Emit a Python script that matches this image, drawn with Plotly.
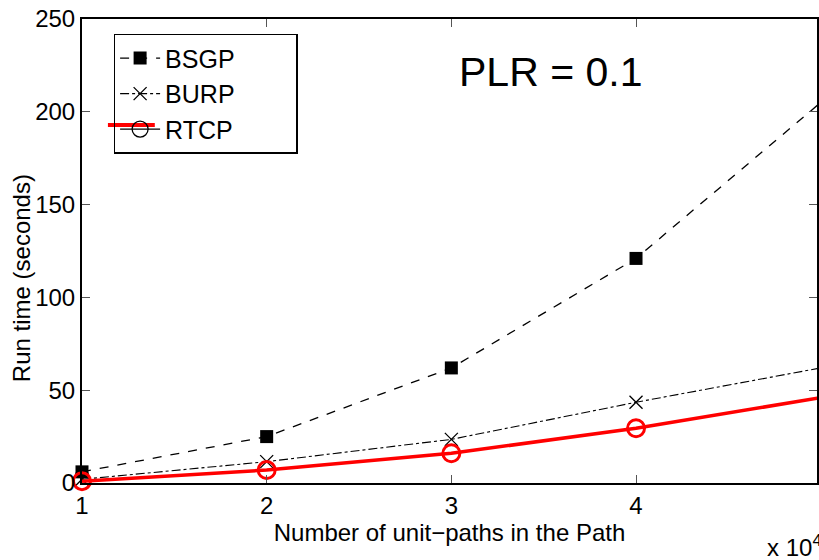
import plotly.graph_objects as go

# Number of unit-paths (x 10^4)
paths = [1, 2, 3, 4, 5]

# Run time in seconds for each algorithm
bsgp = [6, 25, 62, 121, 205]
burp = [2, 11.5, 23.5, 43.5, 62]
rtcp = [1, 7, 16, 29.5, 46]

FONT = "Liberation Sans, Arial"
NBSP = "\u00a0"

fig = go.Figure()

fig.add_trace(go.Scatter(
    x=paths, y=bsgp, name="BSGP" + NBSP * 8, mode="lines+markers",
    line=dict(color="black", width=1.3, dash="dash"),
    marker=dict(symbol="square", size=13, color="black"),
    cliponaxis=False,
))
fig.add_trace(go.Scatter(
    x=paths, y=burp, name="BURP", mode="lines+markers",
    line=dict(color="black", width=1.1, dash="dashdot"),
    marker=dict(symbol="x-thin-open", size=13, line=dict(color="black", width=1.3)),
    cliponaxis=False,
))
fig.add_trace(go.Scatter(
    x=paths, y=rtcp, name="RTCP", mode="lines+markers",
    line=dict(color="black", width=1.3),
    marker=dict(symbol="circle-open", size=17, line=dict(color="black", width=1.3)),
    cliponaxis=False,
))
fig.add_trace(go.Scatter(
    x=paths, y=rtcp, name="RTCP", mode="lines+markers", showlegend=False,
    line=dict(color="#ff0000", width=3.5),
    marker=dict(symbol="circle-open", size=17, line=dict(color="#ff0000", width=3)),
    cliponaxis=False,
))

fig.update_layout(
    width=819, height=560,
    margin=dict(l=82, r=0, t=19, b=77),
    paper_bgcolor="white", plot_bgcolor="white",
    font=dict(family=FONT, color="black", size=24),
    showlegend=True,
    legend=dict(
        x=0.043, y=0.968, xanchor="left", yanchor="top",
        bgcolor="rgba(255,255,255,0)", bordercolor="black", borderwidth=1.5,
        font=dict(family=FONT, size=25), tracegroupgap=0,
        itemwidth=40,
    ),
    xaxis=dict(
        range=[1, 4.98], tickvals=[1, 2, 3, 4, 5],
        ticks="inside", ticklen=8, tickcolor="#555",
        showline=True, linecolor="black", linewidth=2, mirror="ticks",
        showgrid=False, zeroline=False,
        tickfont=dict(size=24, family=FONT),
        title=dict(text="Number of unit\u2212paths in the Path",
                   font=dict(size=24, family=FONT), standoff=2),
    ),
    yaxis=dict(
        range=[0, 250], tickvals=[0, 50, 100, 150, 200, 250],
        ticks="inside", ticklen=8, tickcolor="#555",
        showline=True, linecolor="black", linewidth=2, mirror="ticks",
        showgrid=False, zeroline=False,
        tickfont=dict(size=24, family=FONT),
    ),
)

# Y-axis title placed as a rotated annotation
fig.add_annotation(
    text="Run time (seconds)", xref="paper", yref="paper",
    x=(21 - 82) / 737, y=(483 - 278) / 464,
    xanchor="center", yanchor="middle", textangle=-90, showarrow=False,
    font=dict(family=FONT, size=24, color="black"),
)

# Red stroke beside the RTCP legend entry
fig.add_shape(
    type="line", xref="paper", yref="paper",
    x0=(108 - 82) / 737, x1=(155 - 82) / 737,
    y0=(483 - 125) / 464, y1=(483 - 125) / 464,
    line=dict(color="#ff0000", width=4),
)

fig.add_annotation(
    text="PLR = 0.1", xref="paper", yref="paper",
    x=(552 - 82) / 737, y=(483 - 72) / 464,
    xanchor="center", yanchor="middle", showarrow=False,
    font=dict(family=FONT, size=41, color="black"),
)
fig.add_annotation(
    text="x 10<sup>4</sup>", xref="paper", yref="paper", x=1.01, y=-0.135,
    xanchor="right", yanchor="middle", showarrow=False,
    font=dict(family=FONT, size=24, color="black"),
)

fig.write_html("out.html")
